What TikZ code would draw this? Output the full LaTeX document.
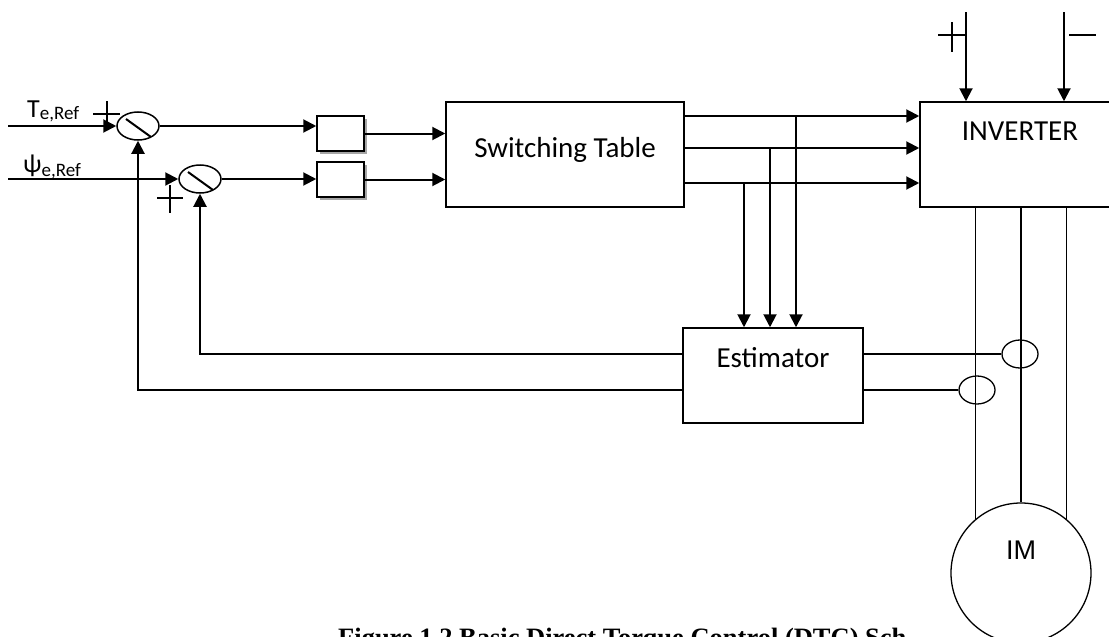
\documentclass[tikz,border=0pt]{standalone}
\usepackage{fontspec}
\setmainfont{Carlito}
\newfontfamily\imfont{Liberation Sans}
\newfontfamily\capfont{Liberation Serif}
\usepackage{tikz}
\usetikzlibrary{arrows.meta,positioning,shapes.geometric,shadows}
\tikzset{
  blk/.style   ={draw,line width=1.5pt,inner sep=0pt,font=\fontsize{29}{29}\selectfont},
  hyst/.style  ={draw,line width=1.5pt,fill=white,minimum width=47pt,minimum height=35pt,
                 inner sep=0pt,drop shadow={shadow xshift=3pt,shadow yshift=-3pt,
                 fill=gray!70,opacity=1}},
  summ/.style  ={draw,ellipse,line width=1.5pt,minimum width=42pt,minimum height=28pt,
                 inner sep=0pt},
  sensor/.style={draw,ellipse,line width=1.3pt,minimum width=36pt,minimum height=28pt,
                 inner sep=0pt},
  flow/.style  ={-{Triangle[length=13pt,width=13pt]},line width=2pt},
  wire/.style  ={line width=1.8pt},
  sign/.style  ={line width=1.3pt},
  reflbl/.style={anchor=base west,inner sep=0pt}
}
\newcommand{\reflabel}[3]{{\fontsize{26}{26}\selectfont #1}\raisebox{#3}{\fontsize{19}{19}\selectfont #2}}

\begin{document}
\begin{tikzpicture}[x=1pt,y=-1pt]
    \useasboundingbox (0,0) rectangle (1109,637);
    \clip (0,0) rectangle (1109,637);
    \node[summ] (s1) at (138,126) {};
    \node[summ] (s2) at (200,179) {};
    \draw[line width=2pt] (s1.center) +(-12,-7) -- +(13,11);
    \draw[line width=2pt] (s2.center) +(-12,-7) -- +(13,11);
    \node[hyst] (h1) at (340.5,133.5) {};
    \node[hyst] (h2) at (340.5,179.5) {};
    \node[blk,minimum width=238pt,minimum height=105pt,text height=20pt,text depth=15pt]
      (sw) at (565,154.5) {Switching Table};
    \node[blk,minimum width=200pt,minimum height=105pt,text height=19pt,text depth=48pt]
      (inv) at (1020,154.5) {INVERTER};
    \node[blk,minimum width=180pt,minimum height=95pt,text height=19pt,text depth=36pt]
      (est) at (773,375.5) {Estimator};
    \node[anchor=base west,inner sep=0pt,font=\capfont\bfseries\fontsize{26.5}{26.5}\selectfont]
      (cap) at (338,646) {Figure 1.2 Basic Direct Torque Control (DTC) Sch};
    \node[circle,draw,line width=1.3pt,minimum size=140pt,inner sep=0pt,fill=white,
      font=\imfont\fontsize{27}{27}\selectfont,text height=19pt,text depth=47pt]
      (im) at (1021,573) {IM};
    \node[sensor] (cs1) at (1020,354) {};
    \node[sensor] (cs2) at (977,390) {};

    \coordinate (tin) at (8,126);
    \coordinate (pin) at (8,179);
    \node[reflbl] (tlbl) at (27,117) {\reflabel{T}{e,Ref}{-2.5pt}};
    \node[reflbl] (plbl) at (23,172) {\reflabel{ψ}{e,Ref}{-4pt}};
    \draw[flow] (tin) -- (s1.west);
    \draw[flow] (pin) -- (s2.west);
    \draw[flow] (s1.east) -- (s1.east -| h1.west);
    \draw[flow] (s2.east) -- (s2.east -| h2.west);
    \draw[flow] (h1.east) -- (h1.east -| sw.west);
    \draw[flow] (h2.east) -- (h2.east -| sw.west);

    \coordinate (o1) at (684,116);
    \coordinate (o2) at (684,148);
    \coordinate (o3) at (684,183);
    \draw[flow] (o1) -- (o1 -| inv.west);
    \draw[flow] (o2) -- (o2 -| inv.west);
    \draw[flow] (o3) -- (o3 -| inv.west);
    \coordinate (e1) at (796,116);
    \coordinate (e2) at (770,148);
    \coordinate (e3) at (744,183);
    \draw[flow] (e1) -- (e1 |- est.north);
    \draw[flow] (e2) -- (e2 |- est.north);
    \draw[flow] (e3) -- (e3 |- est.north);

    \draw[flow] (est.west |- cs1) -| (s2.south);
    \draw[flow] (est.west |- cs2) -| (s1.south);
    \draw[wire] (est.east |- cs1) -- (cs1.west);
    \draw[wire] (est.east |- cs2) -- (cs2.west);

    \draw[wire] (im.130 |- inv.south) -- (im.130);
    \draw[wire] (im.north |- inv.south) -- (im.north);
    \draw[wire] (im.50 |- inv.south) -- (im.50);

    \coordinate (dcp) at (966,12);
    \coordinate (dcn) at (1064,12);
    \draw[flow] (dcp) -- (dcp |- inv.north);
    \draw[flow] (dcn) -- (dcn |- inv.north);
    \draw[sign] (952,22) -- (952,52) (938,35) -- (965,35);
    \draw[sign] (1069,35) -- (1096,35);
    \draw[sign] (107,101) -- (107,123) (93,114) -- (120,114);
    \draw[sign] (170,185) -- (170,213) (157,198) -- (183,198);
\end{tikzpicture}
\end{document}
